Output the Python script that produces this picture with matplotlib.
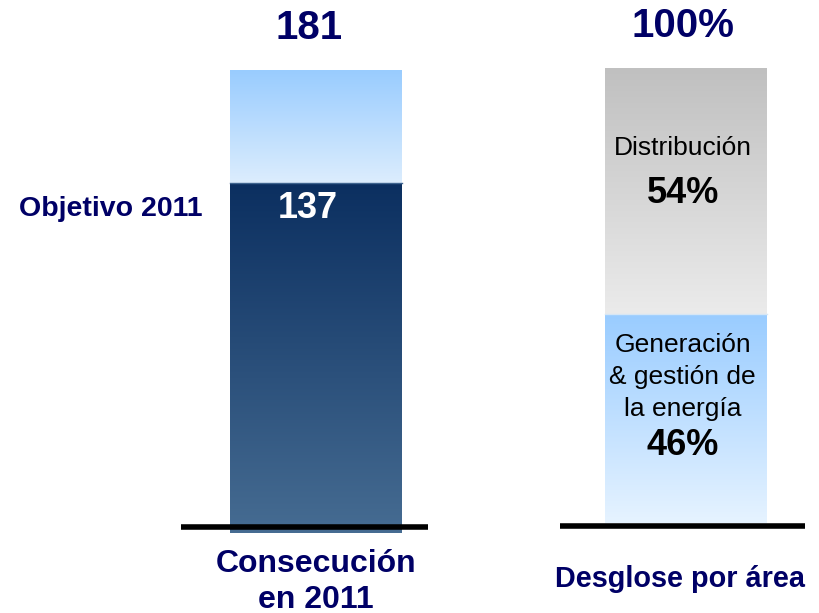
import numpy as np
from matplotlib import pyplot as plt
from matplotlib.colors import LinearSegmentedColormap

plt.rcParams['font.family'] = ['Liberation Sans', 'DejaVu Sans']

# data
logro_total = 181
objetivo = 137
area_names = ["Generación\n& gestión de\nla energía", "Distribución"]
area_pct = [46, 54]
navy = '#000066'

W, H = 819, 613
fig = plt.figure(figsize=(W/100, H/100), dpi=100)

def grad_bar(ax, x0, width, y0, y1, c_top, c_bot):
    b = ax.bar(x0, y1 - y0, width=width, bottom=y0, color='none', linewidth=0)[0]
    cmap = LinearSegmentedColormap.from_list('g', [c_bot, c_top])
    img = ax.imshow(np.linspace(0, 1, 256).reshape(-1, 1), cmap=cmap, aspect='auto',
                    extent=[x0 - width/2, x0 + width/2, y0, y1], origin='lower', zorder=1)
    img.set_clip_path(b)
    return b

def make_ax(px_left, px_right, bar_l, bar_r, px_zero, px_top, top_val):
    ax = fig.add_axes([px_left/W, 0, (px_right - px_left)/W, 1])
    sx = bar_r - bar_l
    ax.set_xlim(-0.5 - (bar_l - px_left)/sx, 0.5 + (px_right - bar_r)/sx)
    sy = (px_zero - px_top)/top_val
    ax.set_ylim(-(H - px_zero)/sy, px_zero/sy)
    ax.axis('off')
    return ax, sy, sx

# left: consecucion
ax1, sy1, sx1 = make_ax(181, 428, 230, 402, 533, 70, logro_total)
grad_bar(ax1, 0, 1, 0, objetivo, '#0b2f60', '#466c92')
grad_bar(ax1, 0, 1, objetivo, logro_total, '#99ccff', '#dcedfd')
ax1.plot([-0.5, 0.5], [objetivo, objetivo], color='#3f6590', lw=1, zorder=2)
ax1.axhline(6/sy1, color='black', lw=4, zorder=3)
ax1.text(-7/sx1, logro_total + 42/sy1, str(logro_total), ha='center', va='center',
         fontsize=29, fontweight='bold', color=navy)
ax1.text(-0.05, objetivo - 26/sy1, str(objetivo), ha='center', va='center',
         fontsize=26, fontweight='bold', color='white')
ax1.text(-0.5 - 27/sx1, objetivo - 26/sy1, 'Objetivo 2011', ha='right', va='center',
         fontsize=20.5, fontweight='bold', color=navy, clip_on=False)
ax1.text(0, -49/sy1, 'Consecución\nen 2011', ha='center', va='center',
         fontsize=23, fontweight='bold', color=navy, linespacing=1.24)

# right: desglose
ax2, sy2, sx2 = make_ax(560, 805, 605, 767, 523, 68, 100)
grad_bar(ax2, 0, 1, 0, area_pct[0], '#99ccff', '#e6f3ff')
grad_bar(ax2, 0, 1, area_pct[0], 100, '#c0c0c0', '#ebebeb')
ax2.plot([-0.5, 0.5], [area_pct[0], area_pct[0]], color='#d6e6f5', lw=1, zorder=2)
ax2.axhline(-3/sy2, color='black', lw=4, zorder=3)
ax2.text(-3/sx2, 100 + 42/sy2, '100%', ha='center', va='center',
         fontsize=29, fontweight='bold', color=navy)
ax2.text(-0.02, 100 - 80/sy2, area_names[1], ha='center', va='center', fontsize=19)
ax2.text(-0.02, 100 - 125/sy2, f'{area_pct[1]}%', ha='center', va='center',
         fontsize=26, fontweight='bold')
ax2.text(-0.02, area_pct[0] - 63/sy2, area_names[0], ha='center', va='center',
         fontsize=19, linespacing=1.42)
ax2.text(-0.02, area_pct[0] - 132/sy2, f'{area_pct[0]}%', ha='center', va='center',
         fontsize=26, fontweight='bold')
ax2.text(-0.04, -56/sy2, 'Desglose por área', ha='center', va='center',
         fontsize=20.8, fontweight='bold', color=navy)

fig.savefig('out.png', dpi=100)
